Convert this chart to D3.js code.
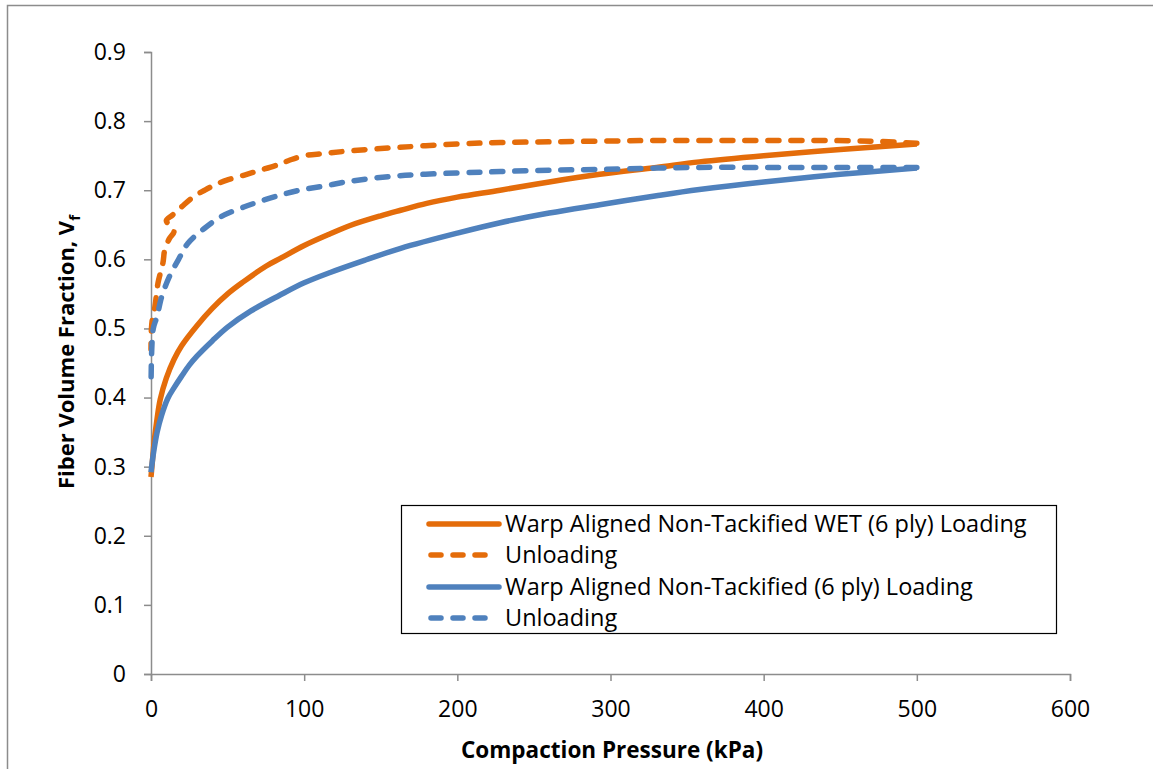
<!DOCTYPE html>
<html>
<head>
<meta charset="utf-8">
<script src="https://cdn.jsdelivr.net/npm/d3@7"></script>
<style>
  html, body { margin: 0; padding: 0; background: #fff; }
  svg { display: block; font-family: "Open Sans", "Noto Sans", sans-serif; }
</style>
</head>
<body>
<svg id="chart" width="1153" height="769"></svg>
<script>
// Compaction pressure (kPa) and fiber volume fraction for each curve
const wetLoadP = [0, 1, 2, 4, 6, 10, 15, 20, 30, 40, 50, 60, 75, 85, 100, 117, 130, 150, 163, 180, 200, 228, 260, 293, 330, 358, 400, 450, 500];
const wetLoadVf = [0.285, 0.31, 0.335, 0.37, 0.397, 0.428, 0.455, 0.475, 0.504, 0.529, 0.55, 0.567, 0.59, 0.602, 0.62, 0.637, 0.649, 0.663, 0.671, 0.681, 0.69, 0.70, 0.712, 0.723, 0.733, 0.741, 0.75, 0.759, 0.767];

const wetUnloadP = [500, 470, 430, 380, 330, 293, 260, 228, 200, 162, 130, 113, 100, 90, 83, 70, 61, 50, 42, 35, 28, 20, 14, 10, 14, 15, 12, 9, 7.8, 4.6, 2.6, 1, 0.3, 0];
const wetUnloadVf = [0.768, 0.771, 0.772, 0.772, 0.772, 0.771, 0.770, 0.769, 0.767, 0.762, 0.757, 0.753, 0.750, 0.743, 0.737, 0.728, 0.722, 0.715, 0.708, 0.700, 0.691, 0.676, 0.664, 0.656, 0.645, 0.640, 0.630, 0.614, 0.595, 0.566, 0.532, 0.515, 0.50, 0.47];

const dryLoadP = [0, 1, 2, 4, 7, 11, 15, 20, 25, 30, 40, 50, 65, 84, 100, 117, 140, 163, 200, 228, 260, 293, 330, 358, 400, 450, 500];
const dryLoadVf = [0.292, 0.31, 0.325, 0.35, 0.375, 0.399, 0.414, 0.431, 0.447, 0.46, 0.482, 0.502, 0.525, 0.548, 0.566, 0.581, 0.599, 0.616, 0.638, 0.653, 0.667, 0.679, 0.692, 0.701, 0.712, 0.723, 0.732];

const dryUnloadP = [500, 450, 400, 358, 330, 293, 260, 228, 200, 162, 130, 113, 97, 83, 70, 61, 46, 35, 24, 18, 12, 7, 4, 1.5, 0.5, 0];
const dryUnloadVf = [0.733, 0.733, 0.733, 0.733, 0.732, 0.730, 0.729, 0.727, 0.725, 0.721, 0.713, 0.706, 0.700, 0.692, 0.683, 0.676, 0.662, 0.645, 0.623, 0.600, 0.575, 0.546, 0.518, 0.50, 0.47, 0.415];

const xTicks = [0, 100, 200, 300, 400, 500, 600];
const yTicks = [0, 0.1, 0.2, 0.3, 0.4, 0.5, 0.6, 0.7, 0.8, 0.9];

const legendLabels = [
  "Warp Aligned Non-Tackified WET (6 ply) Loading",
  "Unloading",
  "Warp Aligned Non-Tackified (6 ply) Loading",
  "Unloading"
];

const ORANGE = "#E46C0A";
const BLUE = "#4F81BD";
const AXIS = "#8c8c8c";

const series = [
  { p: wetLoadP, v: wetLoadVf, color: ORANGE, dashed: false },
  { p: wetUnloadP, v: wetUnloadVf, color: ORANGE, dashed: true },
  { p: dryLoadP, v: dryLoadVf, color: BLUE, dashed: false },
  { p: dryUnloadP, v: dryUnloadVf, color: BLUE, dashed: true }
];

const svg = d3.select("#chart");

// chart frame (left and top edges fall inside the canvas)
svg.append("rect")
  .attr("x", 7.5).attr("y", 5.5)
  .attr("width", 1200).attr("height", 800)
  .attr("fill", "#fff")
  .attr("stroke", AXIS).attr("stroke-width", 1.5);

const plot = { left: 151, right: 1070, top: 52, bottom: 674 };

const x = d3.scaleLinear().domain([0, 600]).range([plot.left, plot.right]);
const y = d3.scaleLinear().domain([0, 0.9]).range([plot.bottom, plot.top]);

// y axis
const yAxis = svg.append("g")
  .attr("transform", `translate(${plot.left},0)`)
  .call(d3.axisLeft(y).tickValues(yTicks).tickSize(7).tickPadding(18)
    .tickFormat(d => d === 0 ? "0" : d3.format(".1f")(d)));
yAxis.select(".domain").attr("stroke", AXIS).attr("stroke-width", 1.5);
yAxis.selectAll(".tick line").attr("stroke", AXIS).attr("stroke-width", 1.5);
yAxis.selectAll(".tick text").attr("font-size", 23).attr("fill", "#000")
  .attr("font-family", "'Open Sans', sans-serif");

// x axis
const xAxis = svg.append("g")
  .attr("transform", `translate(0,${plot.bottom})`)
  .call(d3.axisBottom(x).tickValues(xTicks).tickSize(7).tickPadding(20)
    .tickFormat(d3.format("d")));
xAxis.select(".domain").attr("stroke", AXIS).attr("stroke-width", 1.5);
xAxis.selectAll(".tick line").attr("stroke", AXIS).attr("stroke-width", 1.5);
xAxis.selectAll(".tick text").attr("font-size", 23).attr("fill", "#000")
  .attr("font-family", "'Open Sans', sans-serif");

// curves
const curveLine = d3.line()
  .x(d => x(d[0]))
  .y(d => y(d[1]))
  .curve(d3.curveCatmullRom.alpha(0.5));

series.forEach(s => {
  const pts = s.p.map((p, i) => [p, s.v[i]]);
  svg.append("path")
    .datum(pts)
    .attr("d", curveLine)
    .attr("fill", "none")
    .attr("stroke", s.color)
    .attr("stroke-width", 5.5)
    .attr("stroke-linecap", s.dashed ? "round" : "butt")
    .attr("stroke-linejoin", "round")
    .attr("stroke-dasharray", s.dashed ? "11,12" : null);
});

// axis titles
svg.append("text")
  .attr("x", 612).attr("y", 758)
  .attr("text-anchor", "middle")
  .attr("font-size", 22.5).attr("font-weight", "bold")
  .text("Compaction Pressure (kPa)");

const yTitle = svg.append("text")
  .attr("transform", "translate(74,352) rotate(-90)")
  .attr("text-anchor", "middle")
  .attr("font-size", 22).attr("font-weight", "bold");
yTitle.append("tspan").text("Fiber Volume Fraction, V");
yTitle.append("tspan").attr("font-size", 15).attr("dy", 6).text("f");

// legend
const legend = svg.append("g");
legend.append("rect")
  .attr("x", 401.5).attr("y", 505.5)
  .attr("width", 655).attr("height", 128)
  .attr("fill", "#fff").attr("stroke", "#000").attr("stroke-width", 1.2);

const rowY = [524, 555, 587, 618];
series.forEach((s, i) => {
  legend.append("line")
    .attr("x1", s.dashed ? 431 : 429).attr("x2", s.dashed ? 490 : 499)
    .attr("y1", rowY[i]).attr("y2", rowY[i])
    .attr("stroke", s.color)
    .attr("stroke-width", 5.5)
    .attr("stroke-linecap", "round")
    .attr("stroke-dasharray", s.dashed ? "10,12" : null);
  legend.append("text")
    .attr("x", 505).attr("y", rowY[i] + 8)
    .attr("font-size", 23.5)
    .text(legendLabels[i]);
});
</script>
</body>
</html>
